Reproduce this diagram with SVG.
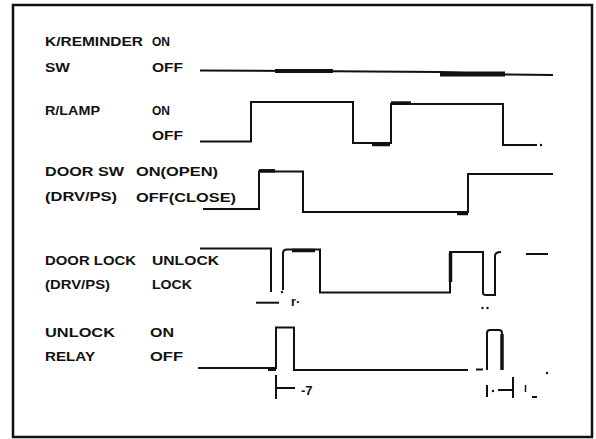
<svg xmlns="http://www.w3.org/2000/svg" width="596" height="439" viewBox="0 0 596 439">
<style>
text{font-family:"Liberation Sans",Arial,sans-serif;font-weight:bold;font-size:12px;fill:#111}
.w{fill:none;stroke:#111;stroke-width:2}
.t{fill:none;stroke:#111;stroke-width:4}
.m{font-size:13px}
</style>
<rect x="13" y="5" width="579" height="432" fill="#fff" stroke="#111" stroke-width="2.5"/>
<g id="row-key-reminder">
<text x="45" y="46" textLength="98" lengthAdjust="spacingAndGlyphs">K/REMINDER</text>
<text x="152" y="46" textLength="18" lengthAdjust="spacingAndGlyphs">ON</text>
<text x="45" y="72" textLength="25" lengthAdjust="spacingAndGlyphs">SW</text>
<text x="152" y="72" textLength="31" lengthAdjust="spacingAndGlyphs">OFF</text>
</g>
<g id="row-room-lamp">
<text x="45" y="115" textLength="55" lengthAdjust="spacingAndGlyphs">R/LAMP</text>
<text x="152" y="115" textLength="18" lengthAdjust="spacingAndGlyphs">ON</text>
<text x="152" y="140" textLength="31" lengthAdjust="spacingAndGlyphs">OFF</text>
</g>
<g id="row-door-sw">
<text x="45" y="176" textLength="79" lengthAdjust="spacingAndGlyphs">DOOR SW</text>
<text x="136" y="176" textLength="82" lengthAdjust="spacingAndGlyphs">ON(OPEN)</text>
<text x="45" y="201" textLength="72" lengthAdjust="spacingAndGlyphs">(DRV/PS)</text>
<text x="136" y="202" textLength="100" lengthAdjust="spacingAndGlyphs">OFF(CLOSE)</text>
</g>
<g id="row-door-lock">
<text x="45" y="265" textLength="91" lengthAdjust="spacingAndGlyphs">DOOR LOCK</text>
<text x="152" y="265" textLength="67" lengthAdjust="spacingAndGlyphs">UNLOCK</text>
<text x="45" y="289" textLength="65" lengthAdjust="spacingAndGlyphs">(DRV/PS)</text>
<text x="152" y="289" textLength="40" lengthAdjust="spacingAndGlyphs">LOCK</text>
</g>
<g id="row-unlock-relay">
<text x="45" y="337" textLength="70" lengthAdjust="spacingAndGlyphs">UNLOCK</text>
<text x="150" y="337" textLength="24" lengthAdjust="spacingAndGlyphs">ON</text>
<text x="45" y="361" textLength="50" lengthAdjust="spacingAndGlyphs">RELAY</text>
<text x="150" y="361" textLength="33" lengthAdjust="spacingAndGlyphs">OFF</text>
</g>
<g id="connectors">
<path class="w" d="M200,70.5 L333,71.2 L440,72 L505,74.5 L553,75"/>
<path class="t" d="M275,71 H333"/>
<path class="t" d="M440,74 H505" style="stroke-width:5"/>
<path class="w" d="M200,141.5 H251 V102 H353 V143 H391 V104 H503 V145 H537"/>
<path class="t" d="M372,144.5 H390" style="stroke-width:3.5"/>
<path class="t" d="M391,102.8 H411" style="stroke-width:3"/>
<circle cx="541" cy="145" r="1.2" fill="#111"/>
<path class="w" d="M203,209 H259 V171.5 H303 V212 H468 V174 H553"/>
<path class="t" d="M259,170.8 H275" style="stroke-width:3.5"/>
<path class="t" d="M457,213.5 H468" style="stroke-width:3.5"/>
<path class="w" d="M200,248.5 H271 V292"/>
<circle cx="282" cy="292" r="1.2" fill="#111"/>
<path class="w" d="M283,290 V253 Q283,249.5 287,249.5 H320 V292.5 H450 V252 H483 V293 Q483,295 486,295 H495 V256 Q495,252 501,252"/>
<path class="t" d="M292,250.5 H315" style="stroke-width:3.5"/>
<path class="t" d="M450.5,253 V282" style="stroke-width:3.5"/>
<path class="w" d="M526,254 H548"/>
<path class="w" d="M256,302.7 H279"/>
<text class="m" x="291" y="306">r·</text>
<circle cx="482.5" cy="308" r="1.2" fill="#111"/>
<circle cx="487.5" cy="308" r="1.2" fill="#111"/>
<path class="w" d="M198,368 H276 V327.5 H294 V370 H468"/>
<path class="t" d="M268,369 H276"/>
<path class="w" d="M476,369.5 H483"/>
<path class="w" d="M487,370 V333 Q487,330 490,330 H499 Q502,330 502,333 V370"/>
<path class="w" d="M502,334 V370" style="stroke-width:3.5"/>
<circle cx="547" cy="373" r="1.2" fill="#111"/>
<path class="w" d="M276,375 V399 M276,388 H295"/>
<text class="m" x="301" y="395">-7</text>
<path class="w" d="M487,385 V397 M498,390 H513 M513,377 V398"/>
<circle cx="493" cy="391" r="1.2" fill="#111"/>
<path class="w" d="M525.5,385 V392" style="stroke-width:1.5"/>
<path class="w" d="M532,397 H537"/>
</g>
</svg>
